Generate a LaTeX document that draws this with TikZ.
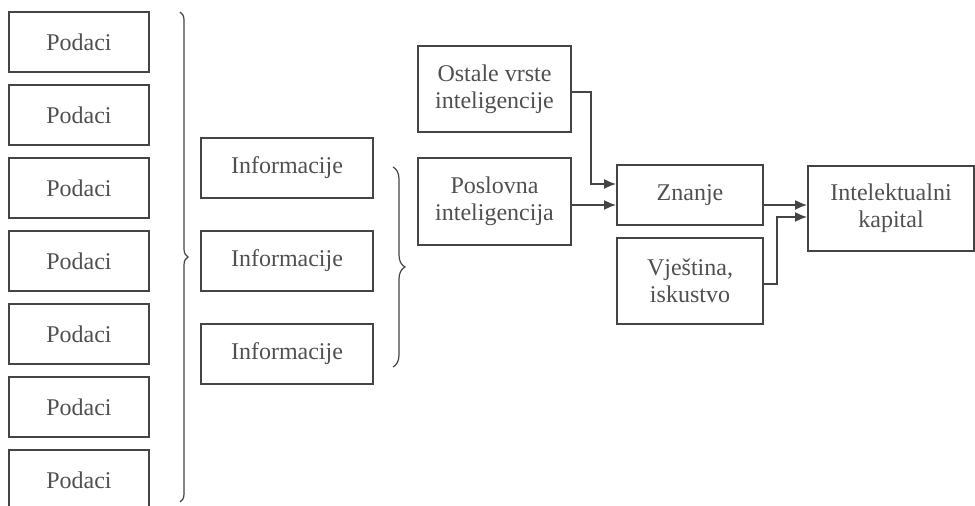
\documentclass[tikz,border=0pt]{standalone}
\usepackage{fontspec}
\setmainfont{Liberation Serif}
\usetikzlibrary{arrows.meta,decorations.pathreplacing}
\definecolor{linegray}{RGB}{68,68,68}
\definecolor{textgray}{RGB}{80,80,80}
\begin{document}
\begin{tikzpicture}[x=0.5pt, y=-0.5pt,
    box/.style={draw=linegray, line width=0.9pt, text=textgray, align=center,
        inner sep=0pt, font=\fontsize{12}{13.5}\selectfont},
    arr/.style={-{Latex[length=6pt,width=5pt]}, draw=linegray, line width=0.9pt},
    brc/.style={draw=linegray, line width=0.6pt, decorate,
        decoration={brace, amplitude=#1}}]
    \useasboundingbox (0,0) rectangle (975,506);

    % podaci
    \foreach \i in {1,...,7}
        \node[box, minimum width=70pt, minimum height=30pt] (pod\i) at (79,{42+73*(\i-1)}) {Podaci};
    \draw[brc=4pt] (180,12) -- (180,502);

    % informacije
    \foreach \y [count=\i] in {168,261,354}
        \node[box, minimum width=86pt, minimum height=30pt] (inf\i) at (287,\y) {Informacije};
    \draw[brc=6pt] (393,167) -- (393,367);

    \node[box, minimum width=76.5pt, minimum height=43pt] (ost) at (494.5,89) {Ostale vrste\\inteligencije};
    \node[box, minimum width=76.5pt, minimum height=43.5pt] (pos) at (494.5,201.5) {Poslovna\\inteligencija};
    \node[box, minimum width=73pt, minimum height=30pt] (zn) at (690,195) {Znanje};
    \node[box, minimum width=73pt, minimum height=43pt] (vj) at (690,281) {Vještina,\\iskustvo};
    \node[box, minimum width=83pt, minimum height=42.5pt] (ik) at (891,208.5) {Intelektualni\\kapital};

    \coordinate (zn in1) at ([yshift=5.5pt]zn.west);
    \coordinate (zn in2) at ([yshift=-5pt]zn.west);
    \coordinate (ik in1) at ([yshift=1.75pt]ik.west);
    \coordinate (ik in2) at ([yshift=-4.25pt]ik.west);

    \draw[arr] ([yshift=-1.5pt]ost.east) -- ++(19,0) |- (zn in1);
    \draw[arr] (pos.east |- zn in2) -- (zn in2);
    \draw[arr] (zn.east |- ik in1) -- (ik in1);
    \draw[arr] ([yshift=-1.5pt]vj.east) -- ++(13,0) |- (ik in2);
\end{tikzpicture}
\end{document}
